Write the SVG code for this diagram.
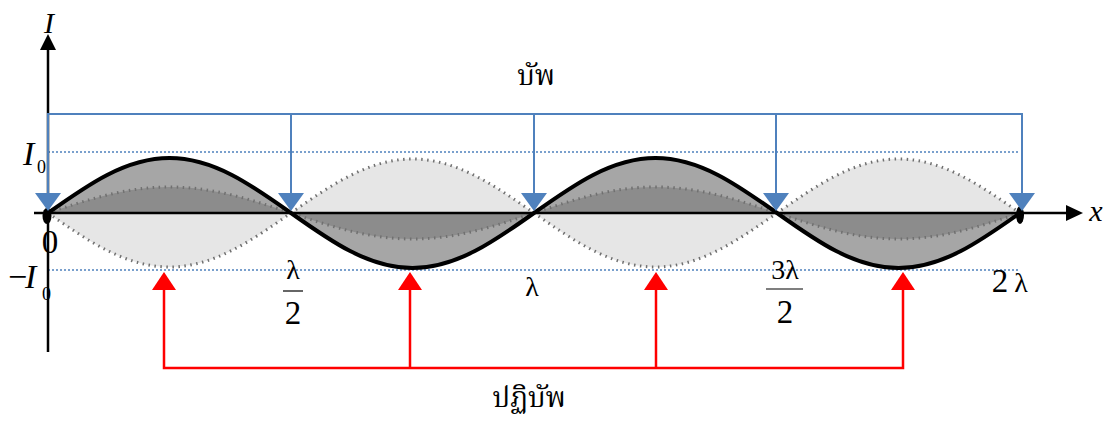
<svg xmlns="http://www.w3.org/2000/svg" width="1105" height="421" viewBox="0 0 1105 421">
<style>
.serif{font-family:"Liberation Serif","Times New Roman",serif;fill:#000}
.it{font-style:italic}
.thai{font-family:"Noto Serif Thai","Noto Sans Thai","Norasi","Loma","Garuda","DejaVu Sans",sans-serif;font-size:28px;fill:#000}
.blue{stroke:#4f81bd;stroke-width:2;fill:none}
.bluedot{stroke:#4f81bd;stroke-width:1.6;stroke-dasharray:2 2;fill:none}
.red{stroke:#ff0000;stroke-width:2.5;fill:none}
.dotgray{stroke:#707070;stroke-width:3;stroke-dasharray:1.5 4.5;fill:none}
</style>
<defs>
<polygon id="barrow" points="-13,-18 13,-18 0,0" fill="#4f81bd"/>
<polygon id="rarrow" points="-12,18 12,18 0,0" fill="#ff0000"/>
</defs>
<rect width="1105" height="421" fill="#fff"/>

<g id="wave">
  <path fill="#e6e6e6" d="M48,213 C87.63,240.66 125.53,267 169.5,267 C213.47,267 251.37,240.66 291,213 C330.63,185.34 368.53,159 412.5,159 C456.47,159 494.37,185.34 534,213 C573.63,240.66 611.53,267 655.5,267 C699.47,267 737.37,240.66 777,213 C816.63,185.34 854.53,159 898.5,159 C942.47,159 980.37,185.34 1020,213 Z"/>
  <path fill="#a6a6a6" d="M48,213 C87.63,184.82 125.53,158 169.5,158 C213.47,158 251.37,184.82 291,213 C330.63,241.18 368.53,268 412.5,268 C456.47,268 494.37,241.18 534,213 C573.63,184.82 611.53,158 655.5,158 C699.47,158 737.37,184.82 777,213 C816.63,241.18 854.53,268 898.5,268 C942.47,268 980.37,241.18 1020,213 Z"/>
  <path fill="#8c8c8c" d="M48,213 C87.63,199.68 125.53,187 169.5,187 C213.47,187 251.37,199.68 291,213 C330.63,226.32 368.53,239 412.5,239 C456.47,239 494.37,226.32 534,213 C573.63,199.68 611.53,187 655.5,187 C699.47,187 737.37,199.68 777,213 C816.63,226.32 854.53,239 898.5,239 C942.47,239 980.37,226.32 1020,213 Z"/>
  <path class="dotgray" d="M48,213 C87.63,240.66 125.53,267 169.5,267 C213.47,267 251.37,240.66 291,213 C330.63,185.34 368.53,159 412.5,159 C456.47,159 494.37,185.34 534,213 C573.63,240.66 611.53,267 655.5,267 C699.47,267 737.37,240.66 777,213 C816.63,185.34 854.53,159 898.5,159 C942.47,159 980.37,185.34 1020,213"/>
  <path class="dotgray" d="M48,213 C87.63,199.68 125.53,187 169.5,187 C213.47,187 251.37,199.68 291,213 C330.63,226.32 368.53,239 412.5,239 C456.47,239 494.37,226.32 534,213 C573.63,199.68 611.53,187 655.5,187 C699.47,187 737.37,199.68 777,213 C816.63,226.32 854.53,239 898.5,239 C942.47,239 980.37,226.32 1020,213"/>
</g>

<g id="levels">
  <line class="bluedot" x1="48" y1="152" x2="1020" y2="152"/>
  <line class="bluedot" x1="48" y1="270" x2="1020" y2="270"/>
</g>

<g id="axes">
  <line x1="48" y1="352" x2="48" y2="48" stroke="#000" stroke-width="2.5"/>
  <polygon points="40,50 56,50 48,34" fill="#000"/>
  <line x1="34" y1="213" x2="1068" y2="213" stroke="#000" stroke-width="2.5"/>
  <polygon points="1066,205 1083,213 1066,221" fill="#000"/>
</g>

<g id="standing-wave">
  <path fill="none" stroke="#000" stroke-width="4" d="M48,213 C87.63,184.82 125.53,158 169.5,158 C213.47,158 251.37,184.82 291,213 C330.63,241.18 368.53,268 412.5,268 C456.47,268 494.37,241.18 534,213 C573.63,184.82 611.53,158 655.5,158 C699.47,158 737.37,184.82 777,213 C816.63,241.18 854.53,268 898.5,268 C942.47,268 980.37,241.18 1020,213"/>
  <ellipse cx="47" cy="216" rx="4.5" ry="8" fill="#000"/>
  <ellipse cx="1020" cy="215" rx="4" ry="9" fill="#000"/>
</g>

<g id="connectors">
  <g id="node-connector">
    <polyline class="blue" points="48,195 48,114 1022,114 1022,195"/>
    <line class="blue" x1="291" y1="114" x2="291" y2="195"/>
    <line class="blue" x1="534" y1="114" x2="534" y2="195"/>
    <line class="blue" x1="776" y1="114" x2="776" y2="195"/>
    <use href="#barrow" x="48" y="211"/>
    <use href="#barrow" x="291" y="211"/>
    <use href="#barrow" x="534" y="211"/>
    <use href="#barrow" x="776" y="211"/>
    <use href="#barrow" x="1022" y="211"/>
  </g>
  <g id="antinode-connector">
    <polyline class="red" points="164,289 164,368 903,368 903,289"/>
    <line class="red" x1="410" y1="368" x2="410" y2="289"/>
    <line class="red" x1="656" y1="368" x2="656" y2="289"/>
    <use href="#rarrow" x="164" y="272"/>
    <use href="#rarrow" x="410" y="272"/>
    <use href="#rarrow" x="656" y="272"/>
    <use href="#rarrow" x="903" y="272"/>
  </g>
</g>

<g id="label-node"><text class="thai" x="536" y="85" text-anchor="middle">บัพ</text></g>
<g id="label-antinode"><text class="thai" x="529" y="407" text-anchor="middle">ปฏิบัพ</text></g>

<g id="axis-labels">
  <text class="serif it" x="49" y="33" font-size="30" text-anchor="middle">I</text>
  <text class="serif it" x="1096" y="221" font-size="30" text-anchor="middle">x</text>
  <text class="serif it" x="23" y="165" font-size="34">I</text>
  <text class="serif" x="37" y="173" font-size="18">0</text>
  <text class="serif" x="8" y="288" font-size="34">−</text>
  <text class="serif it" x="25" y="288" font-size="34">I</text>
  <text class="serif" x="42" y="300" font-size="18">0</text>
  <text class="serif" x="50" y="253" font-size="33" text-anchor="middle">0</text>
</g>

<g id="x-labels">
  <text class="serif" x="293" y="279" font-size="28" text-anchor="middle">λ</text>
  <line x1="283" y1="291" x2="303" y2="291" stroke="#000" stroke-width="1.2"/>
  <text class="serif" x="293" y="324" font-size="33" text-anchor="middle">2</text>
  <text class="serif" x="532" y="296" font-size="28" text-anchor="middle">λ</text>
  <text class="serif" x="785" y="279" font-size="28" text-anchor="middle">3λ</text>
  <line x1="766" y1="289" x2="803" y2="289" stroke="#000" stroke-width="1.2"/>
  <text class="serif" x="785" y="323" font-size="33" text-anchor="middle">2</text>
  <text class="serif" x="1000" y="292" font-size="33" text-anchor="middle">2</text>
  <text class="serif" x="1021" y="292" font-size="28" text-anchor="middle">λ</text>
</g>
</svg>
